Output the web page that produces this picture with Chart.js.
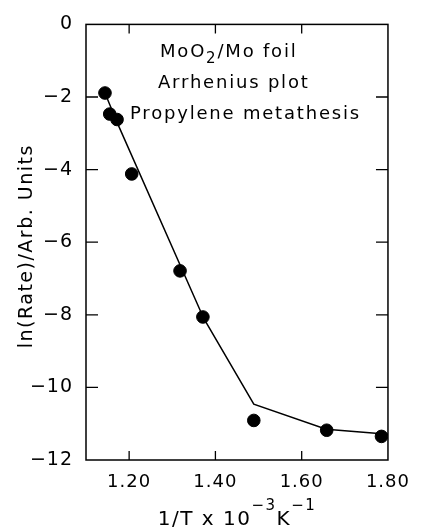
<!DOCTYPE html>
<html>
<head>
<meta charset="utf-8">
<script src="https://cdn.jsdelivr.net/npm/chart.js@4"></script>
<style>
  html, body { margin: 0; padding: 0; background: #fff; }
  #wrap { width: 422px; height: 531px; }
</style>
</head>
<body>
<div id="wrap"><canvas id="grafico"></canvas></div>
<script>
// dados (1/T em 10^-3 K^-1, ln da taxa)
const invT = [1.144, 1.155, 1.172, 1.206, 1.318, 1.371, 1.489, 1.658, 1.785];
const lnRate = [-1.89, -2.47, -2.62, -4.12, -6.79, -8.06, -10.91, -11.18, -11.35];

// linha de ajuste (quebrada)
const ajusteX = [1.144, 1.172, 1.373, 1.489, 1.657, 1.80];
const ajusteY = [-1.89, -2.70, -8.10, -10.46, -11.15, -11.29];

const xTicks = [1.20, 1.40, 1.60, 1.80];
const yTicks = [0, -2, -4, -6, -8, -10, -12];

const notas = ["Arrhenius plot", "Propylene metathesis"];

const fonte = "'DejaVu Sans', sans-serif";

function pontos(xs, ys) {
    return xs.map((x, i) => ({ x: x, y: ys[i] }));
}

// plugin que faz a moldura, os ticks pra dentro e os textos
const moldura = {
    id: 'moldura',
    beforeLayout(chart) {
        chart.ctx.letterSpacing = '1px';
    },
    beforeDraw(chart) {
        chart.ctx.letterSpacing = '1px';
    },
    afterDraw(chart) {
        const ctx = chart.ctx;
        const a = chart.chartArea;
        const sx = chart.scales.x;
        const sy = chart.scales.y;
        ctx.save();
        ctx.strokeStyle = '#000';
        ctx.lineWidth = 1.5;
        ctx.strokeRect(a.left, a.top, a.right - a.left, a.bottom - a.top);

        ctx.lineWidth = 1.3;
        ctx.beginPath();
        xTicks.forEach(v => {
            const px = sx.getPixelForValue(v);
            if (px >= a.right - 1) return;
            ctx.moveTo(px, a.bottom); ctx.lineTo(px, a.bottom - 9);
            ctx.moveTo(px, a.top); ctx.lineTo(px, a.top + 9);
        });
        yTicks.forEach(v => {
            const py = sy.getPixelForValue(v);
            if (py <= a.top + 1 || py >= a.bottom - 1) return;
            ctx.moveTo(a.left, py); ctx.lineTo(a.left + 12, py);
            ctx.moveTo(a.right, py); ctx.lineTo(a.right - 12, py);
        });
        ctx.stroke();

        ctx.fillStyle = '#000';
        ctx.textBaseline = 'alphabetic';

        // texto dentro do grafico
        ctx.letterSpacing = '1.8px';
        ctx.textAlign = 'left';
        let x = 160;
        const partes1 = [["MoO", 0], ["2", 1], ["/Mo foil", 0]];
        partes1.forEach(p => {
            ctx.font = (p[1] ? '15px ' : '18px ') + fonte;
            ctx.fillText(p[0], x, p[1] ? 63 : 57);
            x += ctx.measureText(p[0]).width;
        });
        ctx.font = '18px ' + fonte;
        ctx.fillText(notas[0], 158, 88);
        ctx.fillText(notas[1], 130, 119);

        // titulo do eixo y
        ctx.save();
        ctx.letterSpacing = '1.5px';
        ctx.translate(32, (a.top + a.bottom) / 2 + 4);
        ctx.rotate(-Math.PI / 2);
        ctx.textAlign = 'center';
        ctx.font = '19px ' + fonte;
        ctx.fillText('ln(Rate)/Arb. Units', 0, 0);
        ctx.restore();

        // titulo do eixo x com expoentes
        ctx.letterSpacing = '1.5px';
        const partes2 = [["1/T x 10", 0], ["\u22123", 1], ["K", 0], ["\u22121", 1]];
        let total = 0;
        partes2.forEach(p => {
            ctx.font = (p[1] ? '15px ' : '20px ') + fonte;
            total += ctx.measureText(p[0]).width;
        });
        x = (a.left + a.right) / 2 - total / 2;
        partes2.forEach(p => {
            ctx.font = (p[1] ? '15px ' : '20px ') + fonte;
            ctx.fillText(p[0], x, p[1] ? 510 : 525);
            x += ctx.measureText(p[0]).width;
        });
        ctx.restore();
    }
};

const Grafico = document.getElementById('grafico').getContext('2d');

const grafico = new Chart(Grafico, {
    type: 'scatter',
    data: {
        datasets: [
            {
                label: 'ajuste',
                data: pontos(ajusteX, ajusteY),
                showLine: true,
                borderColor: '#000',
                borderWidth: 1.5,
                pointRadius: 0,
                tension: 0
            },
            {
                label: 'dados',
                data: pontos(invT, lnRate),
                showLine: false,
                backgroundColor: '#000',
                borderColor: '#000',
                pointRadius: 6.3,
                pointHoverRadius: 6.3
            }
        ]
    },
    options: {
        responsive: true,
        maintainAspectRatio: false,
        animation: false,
        events: [],
        layout: { padding: { top: 20, right: 23, left: 0, bottom: 0 } },
        plugins: {
            legend: { display: false },
            tooltip: { enabled: false }
        },
        scales: {
            x: {
                type: 'linear',
                min: 1.10,
                max: 1.80,
                grid: { display: false, drawTicks: false },
                border: { display: false },
                afterBuildTicks: s => { s.ticks = xTicks.map(v => ({ value: v })); },
                afterFit: s => { s.height = 71; },
                ticks: {
                    color: '#000',
                    padding: 12,
                    maxRotation: 0,
                    font: { family: fonte, size: 18 },
                    callback: v => v.toFixed(2)
                }
            },
            y: {
                type: 'linear',
                min: -12,
                max: 0,
                grid: { display: false, drawTicks: false },
                border: { display: false },
                afterBuildTicks: s => { s.ticks = yTicks.map(v => ({ value: v })); },
                afterFit: s => { s.width = 86; },
                ticks: {
                    color: '#000',
                    padding: 13,
                    font: { family: fonte, size: 19 },
                    callback: v => (v < 0 ? '\u2212' + Math.abs(v) : String(v))
                }
            }
        }
    },
    plugins: [moldura]
});
</script>
</body>
</html>
